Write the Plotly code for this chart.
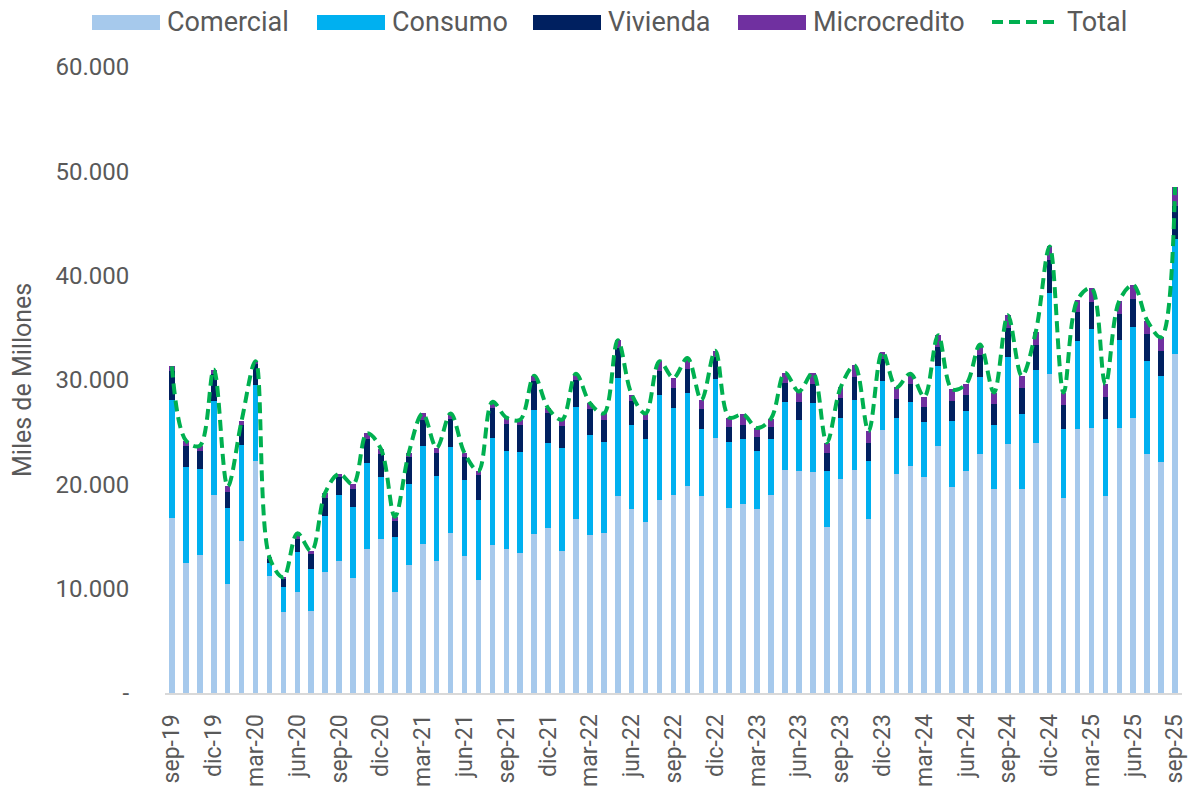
import plotly.graph_objects as go

# meses sep-19 .. sep-25
meses = ["ene", "feb", "mar", "abr", "may", "jun", "jul", "ago", "sep", "oct", "nov", "dic"]
periodos = []
for k in range(73):
    m = (8 + k) % 12
    a = 19 + (8 + k) // 12
    periodos.append(f"{meses[m]}-{a}")

# miles de millones
comercial = [16800, 12500, 13200, 19000, 10400, 14600, 22200, 11200, 7800, 9700, 7900, 11600,
             12700, 11000, 13800, 14800, 9700, 12300, 14300, 12700, 15300, 13100, 10800, 14200,
             13800, 13400, 15200, 15800, 13600, 16700, 15100, 15300, 18900, 17600, 16400, 18500,
             19000, 19800, 18900, 24400, 17700, 18100, 17600, 19000, 21400, 21300, 21200, 15900,
             20500, 21400, 16700, 25200, 21000, 21800, 20700, 23700, 19700, 21300, 22900, 19600,
             23900, 19600, 24000, 30600, 18700, 25300, 25400, 18900, 25400, 26400, 22900, 22100,
             32500]
consumo = [11300, 9200, 8300, 9000, 7300, 9200, 7300, 1300, 2400, 3800, 4000, 5400,
           6300, 6800, 8200, 5900, 5300, 7700, 9400, 8100, 8300, 7300, 7700, 10200,
           9400, 9700, 11900, 8200, 9900, 10700, 9600, 8800, 11300, 8100, 7900, 10100,
           8300, 9000, 6400, 5700, 6400, 6200, 5600, 5300, 6500, 4900, 6600, 5400,
           5900, 6700, 5500, 4700, 5400, 6100, 5300, 7600, 6400, 5700, 7400, 6100,
           8300, 7100, 7000, 7700, 6600, 8400, 9500, 7400, 8400, 8700, 8900, 8300,
           11000]
vivienda = [2800, 2000, 1700, 2600, 1600, 1900, 2000, 400, 800, 1300, 1400, 1700,
            1700, 1800, 2300, 2200, 1500, 2600, 2500, 2200, 2700, 2200, 2400, 2900,
            2600, 2600, 2800, 2800, 2100, 2600, 2500, 2100, 2900, 2300, 1900, 2300,
            1900, 2300, 1900, 2100, 1400, 1400, 1300, 1200, 1800, 1700, 1800, 1700,
            1900, 2200, 1800, 2100, 1800, 1700, 1400, 1900, 1900, 1600, 2100, 2000,
            2800, 2500, 2400, 3200, 2300, 2800, 2600, 2100, 2500, 2700, 2600, 2400,
            3200]
microcredito = [400, 500, 500, 400, 500, 400, 300, 100, 100, 500, 300, 500,
                300, 400, 600, 500, 400, 400, 600, 500, 500, 400, 400, 600,
                600, 500, 500, 500, 600, 600, 600, 600, 700, 600, 600, 900,
                1000, 1000, 900, 600, 900, 1000, 900, 800, 1000, 1000, 1100, 1000,
                1000, 1100, 1100, 700, 1100, 1000, 1000, 1100, 1100, 1000, 1000, 1100,
                1200, 1200, 1200, 1300, 1200, 1200, 1300, 1200, 1300, 1300, 1300, 1300,
                1800]
total = [c + s + v + m for c, s, v, m in zip(comercial, consumo, vivienda, microcredito)]

ticks_x = periodos[::3]
ticks_y = [0, 10000, 20000, 30000, 40000, 50000, 60000]
ticks_y_txt = ["-", "10.000", "20.000", "30.000", "40.000", "50.000", "60.000"]

gris = "#595959"
W, H = 1191, 793
ML, MR, MT, MB = 165, 9, 67, 100
PW, PH = W - ML - MR, H - MT - MB


def px_x(px):
    return (px - ML) / PW


def px_y(py):
    return (H - MB - py) / PH


fig = go.Figure()
series = [("Comercial", comercial, "#A6C9EC"), ("Consumo", consumo, "#00B0F0"),
          ("Vivienda", vivienda, "#002060"), ("Microcredito", microcredito, "#7030A0")]
for nombre, vals, color in series:
    fig.add_trace(go.Bar(x=periodos, y=vals, name=nombre, marker_color=color,
                         marker_line_width=0))
fig.add_trace(go.Scatter(x=periodos, y=total, name="Total", mode="lines",
                         line=dict(color="#00B050", width=4, dash="11px,6px",
                                   shape="spline", smoothing=1)))

# leyenda manual (simbolos anchos como en el original)
leyenda_x = [92, 317, 533, 738, 992]
shapes = []
annots = []
for (nombre, _, color), x0 in zip(series, leyenda_x[:4]):
    shapes.append(dict(type="rect", xref="paper", yref="paper",
                       x0=px_x(x0), x1=px_x(x0 + 68), y0=px_y(30), y1=px_y(15),
                       fillcolor=color, line_width=0))
    annots.append(dict(text=nombre, xref="paper", yref="paper", x=px_x(x0 + 73),
                       y=px_y(22), xanchor="left", yanchor="middle", showarrow=False,
                       font=dict(size=27, color=gris)))
shapes.append(dict(type="line", xref="paper", yref="paper",
                   x0=px_x(leyenda_x[4]), x1=px_x(leyenda_x[4] + 68), y0=px_y(22), y1=px_y(22),
                   line=dict(color="#00B050", width=4, dash="11px,6px")))
annots.append(dict(text="Total", xref="paper", yref="paper", x=px_x(leyenda_x[4] + 73),
                   y=px_y(22), xanchor="left", yanchor="middle", showarrow=False,
                   font=dict(size=27, color=gris)))
annots.append(dict(text="Miles de Millones", xref="paper", yref="paper", x=px_x(22),
                   y=0.5, xanchor="center", yanchor="middle", textangle=-90,
                   showarrow=False, font=dict(size=25, color=gris)))

fig.update_layout(
    barmode="stack",
    bargap=0.6,
    width=W,
    height=H,
    margin=dict(l=ML, r=MR, t=MT, b=MB),
    paper_bgcolor="white",
    plot_bgcolor="white",
    font=dict(family="Roboto", size=24, color=gris),
    showlegend=False,
    shapes=shapes,
    annotations=annots,
    xaxis=dict(tickmode="array", tickvals=ticks_x, ticktext=ticks_x, tickangle=-90,
               showline=True, linecolor="#D9D9D9", linewidth=2, showgrid=False,
               ticks="outside", ticklen=10, tickcolor="rgba(0,0,0,0)",
               tickfont=dict(size=23, color=gris), automargin=False),
    yaxis=dict(range=[0, 60000], tickvals=ticks_y, ticktext=ticks_y_txt,
               showgrid=False, zeroline=False, ticks="outside", ticklen=30,
               tickcolor="rgba(0,0,0,0)", tickfont=dict(size=24, color=gris),
               automargin=False),
)

# quitar el margen por defecto del body para que la figura empiece en (0, 0)
fig.write_html("out.html", config={"displayModeBar": False},
               post_script="document.body.style.margin='0';")
